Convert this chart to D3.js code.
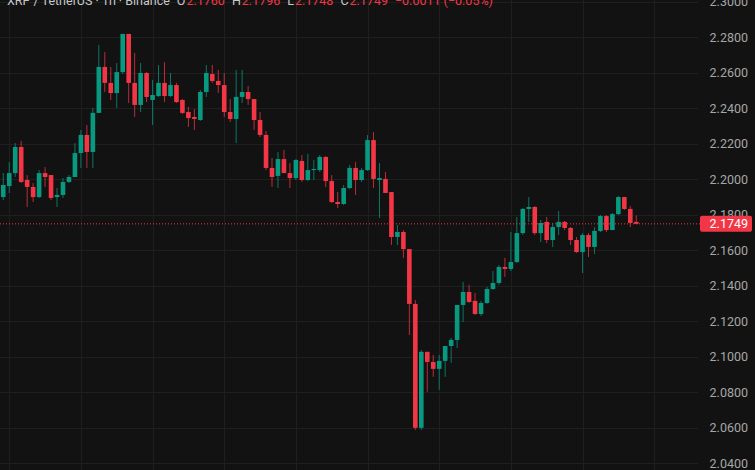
<!DOCTYPE html>
<html>
<head>
<meta charset="utf-8">
<script src="https://cdn.jsdelivr.net/npm/d3@7"></script>
<style>
  body { margin: 0; background: #121212; }
  svg { display: block; }
</style>
</head>
<body>
<div id="container"></div>
<script>
let width = 755
let height = 470
let plotRight = 700

// OHLC, one hour candles, oldest first
const opens = [
  2.1855, 2.1900, 2.1962, 2.2035, 2.2182, 2.1996, 2.1957, 2.1900, 2.2035, 2.2024,
  2.1900, 2.1912, 2.1985, 2.2013, 2.2148, 2.2250, 2.2154, 2.2374, 2.2633, 2.2543,
  2.2486, 2.2604, 2.2819, 2.2543, 2.2419, 2.2599, 2.2447, 2.2469, 2.2543, 2.2469,
  2.2531, 2.2447, 2.2379, 2.2351, 2.2334, 2.2492, 2.2593, 2.2554, 2.2531, 2.2379,
  2.2340, 2.2464, 2.2492, 2.2452, 2.2334, 2.2250, 2.2064, 2.2019, 2.2114, 2.2035,
  2.2007, 2.2103, 2.1996, 2.2052, 2.2052, 2.2126, 2.1990, 2.1872, 2.1861, 2.1951,
  2.2064, 2.1996, 2.2052, 2.2221, 2.1996, 2.2002, 2.1928, 2.1675, 2.1703, 2.1607,
  2.1298, 2.0600, 2.1028, 2.0971, 2.0932, 2.0977, 2.1061, 2.1095, 2.1292, 2.1365,
  2.1315, 2.1241, 2.1303, 2.1382, 2.1416, 2.1506, 2.1495, 2.1534, 2.1697, 2.1833,
  2.1844, 2.1697, 2.1760, 2.1658, 2.1731, 2.1760, 2.1726, 2.1658, 2.1590, 2.1686,
  2.1619, 2.1709, 2.1793, 2.1714, 2.1804, 2.1900, 2.1833, 2.1760
]
const highs = [
  2.1912, 2.2035, 2.2097, 2.2204, 2.2216, 2.2024, 2.1979, 2.2052, 2.2069, 2.2024,
  2.1951, 2.2007, 2.2024, 2.2204, 2.2278, 2.2306, 2.2402, 2.2757, 2.2717, 2.2633,
  2.2655, 2.2819, 2.2819, 2.2712, 2.2655, 2.2604, 2.2560, 2.2644, 2.2660, 2.2599,
  2.2543, 2.2452, 2.2408, 2.2396, 2.2503, 2.2644, 2.2644, 2.2616, 2.2599, 2.2452,
  2.2616, 2.2616, 2.2526, 2.2452, 2.2379, 2.2272, 2.2120, 2.2154, 2.2165, 2.2092,
  2.2114, 2.2137, 2.2143, 2.2109, 2.2137, 2.2131, 2.2024, 2.1928, 2.1968, 2.2081,
  2.2097, 2.2064, 2.2250, 2.2266, 2.2092, 2.2041, 2.1928, 2.1743, 2.1714, 2.1607,
  2.1320, 2.1039, 2.1028, 2.1011, 2.1011, 2.1061, 2.1106, 2.1292, 2.1422, 2.1405,
  2.1360, 2.1315, 2.1394, 2.1483, 2.1517, 2.1557, 2.1703, 2.1788, 2.1838, 2.1900,
  2.1849, 2.1771, 2.1788, 2.1754, 2.1821, 2.1765, 2.1731, 2.1675, 2.1697, 2.1697,
  2.1731, 2.1799, 2.1799, 2.1810, 2.1906, 2.1900, 2.1849, 2.1796
]
const lows = [
  2.1827, 2.1883, 2.1923, 2.2013, 2.1979, 2.1844, 2.1872, 2.1895, 2.1957, 2.1883,
  2.1844, 2.1895, 2.1979, 2.2013, 2.2064, 2.2064, 2.2064, 2.2374, 2.2492, 2.2447,
  2.2402, 2.2593, 2.2430, 2.2351, 2.2379, 2.2435, 2.2306, 2.2464, 2.2435, 2.2464,
  2.2430, 2.2368, 2.2295, 2.2278, 2.2329, 2.2464, 2.2543, 2.2486, 2.2351, 2.2323,
  2.2204, 2.2430, 2.2419, 2.2278, 2.2238, 2.2052, 2.1957, 2.1951, 2.2035, 2.1951,
  2.1996, 2.1985, 2.1990, 2.1996, 2.2041, 2.1957, 2.1866, 2.1838, 2.1855, 2.1945,
  2.1912, 2.1985, 2.2047, 2.1951, 2.1782, 2.1923, 2.1630, 2.1630, 2.1557, 2.1123,
  2.0588, 2.0588, 2.0803, 2.0887, 2.0814, 2.0887, 2.0966, 2.1050, 2.1196, 2.1303,
  2.1236, 2.1230, 2.1298, 2.1376, 2.1405, 2.1450, 2.1483, 2.1528, 2.1686, 2.1760,
  2.1686, 2.1647, 2.1641, 2.1619, 2.1686, 2.1714, 2.1630, 2.1585, 2.1472, 2.1562,
  2.1579, 2.1703, 2.1703, 2.1714, 2.1799, 2.1827, 2.1731, 2.1748
]
const closes = [
  2.1900, 2.1968, 2.2035, 2.2182, 2.1985, 2.1957, 2.1900, 2.2035, 2.2013, 2.1895,
  2.1912, 2.1985, 2.2013, 2.2148, 2.2250, 2.2154, 2.2374, 2.2633, 2.2543, 2.2486,
  2.2604, 2.2819, 2.2543, 2.2419, 2.2599, 2.2464, 2.2475, 2.2543, 2.2469, 2.2531,
  2.2435, 2.2374, 2.2345, 2.2340, 2.2492, 2.2599, 2.2554, 2.2531, 2.2379, 2.2340,
  2.2464, 2.2492, 2.2452, 2.2334, 2.2250, 2.2064, 2.2013, 2.2114, 2.2035, 2.2007,
  2.2109, 2.1996, 2.2052, 2.2058, 2.2126, 2.1990, 2.1872, 2.1861, 2.1951, 2.2064,
  2.1996, 2.2052, 2.2221, 2.2002, 2.2007, 2.1923, 2.1675, 2.1703, 2.1607, 2.1298,
  2.0600, 2.1028, 2.0971, 2.0932, 2.0977, 2.1061, 2.1095, 2.1292, 2.1365, 2.1309,
  2.1241, 2.1303, 2.1382, 2.1416, 2.1506, 2.1495, 2.1534, 2.1697, 2.1833, 2.1844,
  2.1697, 2.1754, 2.1658, 2.1731, 2.1760, 2.1726, 2.1658, 2.1590, 2.1686, 2.1619,
  2.1709, 2.1793, 2.1714, 2.1804, 2.1900, 2.1833, 2.1754, 2.1749
]

const yTicks = [2.30, 2.28, 2.26, 2.24, 2.22, 2.20, 2.18, 2.16, 2.14, 2.12, 2.10, 2.08, 2.06, 2.04]
const lastPrice = 2.1749
const header = [
  { text: "XRP / TetherUS · 1h · Binance", kind: "title" },
  { text: "O", kind: "key" }, { text: "2.1760", kind: "val" },
  { text: "H", kind: "key" }, { text: "2.1796", kind: "val" },
  { text: "L", kind: "key" }, { text: "2.1748", kind: "val" },
  { text: "C", kind: "key" }, { text: "2.1749", kind: "val" },
  { text: "−0.0011 (−0.05%)", kind: "val" }
]

const up = "#089981"
const down = "#f23645"

let data = opens.map((o, i) => ({ i, o, h: highs[i], l: lows[i], c: closes[i] }))

// 118 slots; the last ten are empty space on the right
let x = d3.scaleLinear()
  .domain([0, 117])
  .range([-2.7, 696])

let y = d3.scaleLinear()
  .domain([2.04, 2.30])
  .range([463.3, 1.8])

let svg = d3.select("#container")
  .append("svg")
  .attr("width", width)
  .attr("height", height)
  .style("font-family", "Roboto, sans-serif")

svg.append("rect")
  .attr("width", width)
  .attr("height", height)
  .attr("fill", "#121212")

svg.append("clipPath")
  .attr("id", "plot")
  .append("rect")
  .attr("width", plotRight)
  .attr("height", height)

let plot = svg.append("g").attr("clip-path", "url(#plot)")

// grid
plot.append("g")
  .selectAll("line")
  .data(yTicks)
  .join("line")
  .attr("x1", 0)
  .attr("x2", plotRight - 2)
  .attr("y1", d => Math.round(y(d)) + 0.5)
  .attr("y2", d => Math.round(y(d)) + 0.5)
  .attr("stroke", "#1f1f1f")

plot.append("g")
  .selectAll("line")
  .data(d3.range(2, 118, 12))
  .join("line")
  .attr("x1", d => Math.round(x(d)) + 0.5)
  .attr("x2", d => Math.round(x(d)) + 0.5)
  .attr("y1", 0)
  .attr("y2", height)
  .attr("stroke", "#1f1f1f")

// candles
let candle = plot.append("g")
  .selectAll("g")
  .data(data)
  .join("g")
  .attr("fill", d => d.c >= d.o ? up : down)
  .attr("stroke", d => d.c >= d.o ? up : down)

candle.append("line")
  .attr("x1", d => x(d.i))
  .attr("x2", d => x(d.i))
  .attr("y1", d => y(d.h))
  .attr("y2", d => y(d.l))
  .attr("stroke-width", 1)
  .attr("stroke-opacity", 0.75)

candle.append("rect")
  .attr("x", d => x(d.i) - 2.3)
  .attr("width", 4.6)
  .attr("y", d => y(Math.max(d.o, d.c)))
  .attr("height", d => Math.max(1, y(Math.min(d.o, d.c)) - y(Math.max(d.o, d.c))))
  .attr("stroke", "none")

// last price line
plot.append("line")
  .attr("x1", 0)
  .attr("x2", plotRight)
  .attr("y1", y(lastPrice))
  .attr("y2", y(lastPrice))
  .attr("stroke", down)
  .attr("stroke-width", 1)
  .attr("stroke-dasharray", "1,2")

// price axis
svg.append("g")
  .selectAll("text")
  .data(yTicks)
  .join("text")
  .attr("x", 748)
  .attr("y", d => y(d))
  .attr("dy", "0.36em")
  .attr("text-anchor", "end")
  .attr("fill", "#a6a6a6")
  .style("font-size", "12.5px")
  .text(d => d3.format(".4f")(d))

let tag = svg.append("g")
tag.append("rect")
  .attr("x", 700)
  .attr("y", y(lastPrice) - 8)
  .attr("width", 52)
  .attr("height", 16)
  .attr("rx", 2)
  .attr("fill", down)
tag.append("text")
  .attr("x", 748)
  .attr("y", y(lastPrice))
  .attr("dy", "0.36em")
  .attr("text-anchor", "end")
  .attr("fill", "#ffffff")
  .style("font-size", "12.5px")
  .text(d3.format(".4f")(lastPrice))

// legend header, cut off by the top edge
svg.append("text")
  .attr("x", 7)
  .attr("y", 4.5)
  .style("font-size", "12.5px")
  .selectAll("tspan")
  .data(header)
  .join("tspan")
  .attr("dx", (d, i) => i === 0 ? 0 : (d.kind === "key" || i === header.length - 1) ? 7 : 1)
  .attr("fill", d => d.kind === "val" ? down : "#c9c9c9")
  .text(d => d.text)
</script>
</body>
</html>
